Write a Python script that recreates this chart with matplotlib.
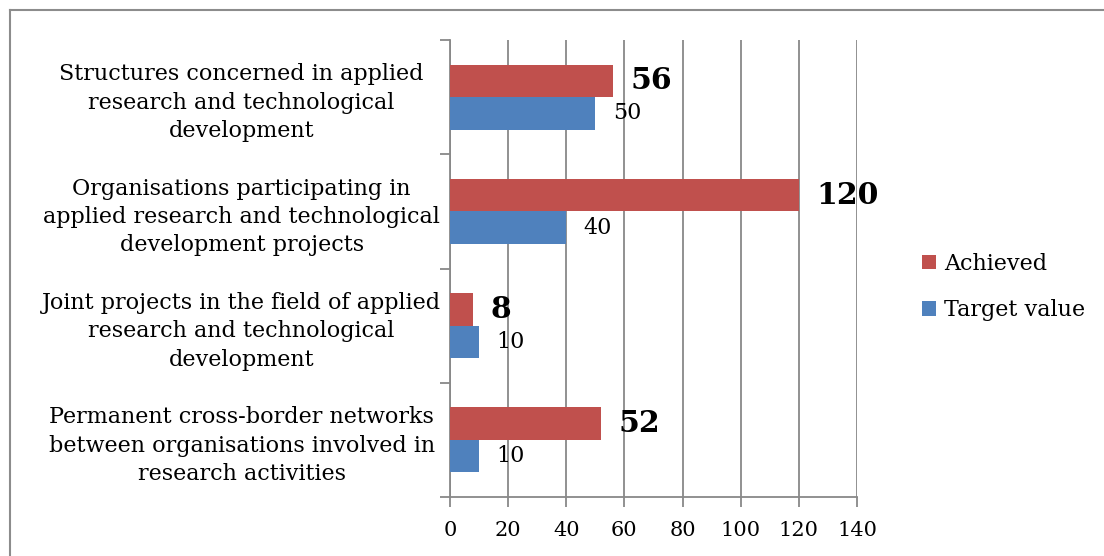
import numpy as np
import matplotlib.pyplot as plt
from matplotlib.lines import Line2D

# data (bottom to top, as drawn)
categories = [
    "Permanent cross-border networks\nbetween organisations involved in\nresearch activities",
    "Joint projects in the field of applied\nresearch and technological\ndevelopment",
    "Organisations participating in\napplied research and technological\ndevelopment projects",
    "Structures concerned in applied\nresearch and technological\ndevelopment",
]
achieved = [52, 8, 120, 56]
target = [10, 10, 40, 50]
x_ticks = [0, 20, 40, 60, 80, 100, 120, 140]

red = '#C0504D'
blue = '#4F81BD'
grid_c = '#888888'

plt.rcParams['font.family'] = ['DejaVu Serif']

fig = plt.figure(figsize=(11.04, 5.56), dpi=100)
ax = fig.add_axes([450 / 1104, 59 / 556, 407 / 1104, 457 / 556])

y = np.arange(len(categories))
h = 0.284
ax.barh(y + h / 2, achieved, height=h, color=red, label='Achieved', zorder=3)
ax.barh(y - h / 2, target, height=h, color=blue, label='Target value', zorder=3)

for yi, a, t in zip(y, achieved, target):
    ax.text(a + 6, yi + h / 2, str(a), fontsize=21.5, fontweight='bold',
            va='center', ha='left', zorder=4)
    ax.text(t + 6, yi - h / 2, str(t), fontsize=16, va='center', ha='left', zorder=4)

ax.set_xlim(0, 140)
ax.set_ylim(-0.5, len(categories) - 0.5)
ax.set_xticks(x_ticks)
ax.set_xticklabels([str(v) for v in x_ticks], fontsize=15)
ax.set_yticks(y)
ax.set_yticklabels(categories, fontsize=16, ha='center', linespacing=1.37)
ax.set_yticks(np.arange(-0.5, len(categories)), minor=True)
ax.tick_params(axis='y', which='major', length=0, pad=150)
ax.tick_params(axis='y', which='minor', length=7, width=1.3, color=grid_c)
ax.tick_params(axis='x', length=7, width=1.3, color=grid_c, pad=10)

ax.grid(axis='x', color=grid_c, linewidth=1.3, zorder=0)
for s in ['top', 'right']:
    ax.spines[s].set_visible(False)
for s in ['left', 'bottom']:
    ax.spines[s].set_color(grid_c)
    ax.spines[s].set_linewidth(1.3)

handles, labels = ax.get_legend_handles_labels()
fig.legend(handles, labels, loc='center left', bbox_to_anchor=(902 / 1104, 1 - 287 / 556),
           frameon=False, fontsize=16, handlelength=0.65, handleheight=0.65,
           handletextpad=0.35, labelspacing=1.1)

# outer chart border
fig.add_artist(Line2D([10 / 1104, 1.0], [1 - 9.5 / 556, 1 - 9.5 / 556],
                      transform=fig.transFigure, color='#8c8c8c', linewidth=1.5))
fig.add_artist(Line2D([10 / 1104, 10 / 1104], [0, 1 - 9.5 / 556],
                      transform=fig.transFigure, color='#8c8c8c', linewidth=1.5))

fig.savefig('out.png', dpi=100)
